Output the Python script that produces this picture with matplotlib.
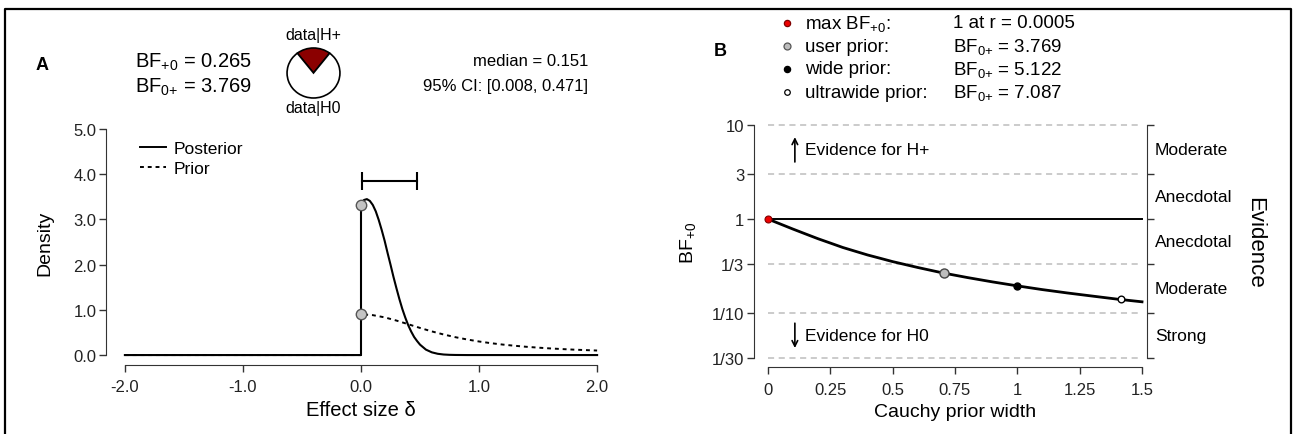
import matplotlib
matplotlib.use('Agg')
import matplotlib.pyplot as plt
from matplotlib.lines import Line2D
import numpy as np

plt.rcParams['font.family'] = ['Liberation Sans', 'DejaVu Sans']
plt.rcParams['mathtext.fontset'] = 'custom'
plt.rcParams['mathtext.rm'] = 'Liberation Sans'
plt.rcParams['mathtext.it'] = 'Liberation Sans:italic'
plt.rcParams['mathtext.default'] = 'regular'
plt.rcParams['axes.unicode_minus'] = False

# panel A: prior and posterior density
effect_size = [-2.0, 0.0, 0.0, 0.025, 0.05, 0.075, 0.1, 0.125, 0.15, 0.175, 0.2, 0.225,
               0.25, 0.275, 0.3, 0.325, 0.35, 0.375, 0.4, 0.425, 0.45, 0.475, 0.5,
               0.55, 0.6, 0.65, 0.7, 0.75, 0.8, 0.9, 2.0]
posterior = [0.0, 0.0, 3.33, 3.43, 3.45, 3.41, 3.32, 3.18, 2.99, 2.77, 2.53, 2.26,
             2.00, 1.73, 1.48, 1.24, 1.02, 0.83, 0.66, 0.52, 0.40, 0.31, 0.23,
             0.12, 0.06, 0.028, 0.012, 0.005, 0.002, 0.0, 0.0]
prior_x = [-2.0, 0.0, 0.0, 0.1, 0.2, 0.3, 0.4, 0.5, 0.6, 0.7, 0.8, 0.9, 1.0,
           1.1, 1.2, 1.3, 1.4, 1.5, 1.6, 1.7, 1.8, 1.9, 2.0]
prior = [0.0, 0.0, 0.90, 0.883, 0.834, 0.763, 0.682, 0.600, 0.523, 0.455, 0.395, 0.344, 0.300,
         0.263, 0.232, 0.206, 0.183, 0.164, 0.147, 0.133, 0.120, 0.110, 0.100]
posterior_at_zero = 3.33
prior_at_zero = 0.90
ci_low, ci_high = 0.008, 0.471
median = 0.151
bf_plus0 = 0.265
bf_0plus = 3.769

x_ticks_a = [-2, -1, 0, 1, 2]
x_labels_a = ['-2.0', '-1.0', '0.0', '1.0', '2.0']
y_ticks_a = [0, 1, 2, 3, 4, 5]
y_labels_a = ['0.0', '1.0', '2.0', '3.0', '4.0', '5.0']

# panel B: robustness check
prior_width = [0.0, 0.05, 0.1, 0.15, 0.2, 0.25, 0.3, 0.35, 0.4, 0.45, 0.5, 0.6, 0.7,
               0.8, 0.9, 1.0, 1.1, 1.2, 1.3, 1.4, 1.5]
bf_curve = [1.0, 0.885, 0.783, 0.696, 0.619, 0.556, 0.499, 0.455, 0.415, 0.383, 0.353,
            0.306, 0.268, 0.239, 0.215, 0.195, 0.178, 0.164, 0.152, 0.141, 0.132]
max_r, max_bf = 0.0005, 1.0
user_r, user_bf0 = 0.707, 3.769
wide_r, wide_bf0 = 1.0, 5.122
ultra_r, ultra_bf0 = 1.414, 7.087

bf_levels = [1/30, 1/10, 1/3, 1, 3, 10]
bf_level_labels = ['1/30', '1/10', '1/3', '1', '3', '10']
evidence_names = ['Strong', 'Moderate', 'Anecdotal', 'Anecdotal', 'Moderate']
x_ticks_b = [0, 0.25, 0.5, 0.75, 1, 1.25, 1.5]
x_labels_b = ['0', '0.25', '0.5', '0.75', '1', '1.25', '1.5']

W, H = 1293, 435
BF0P = 'BF$_{0{+}}$'
BFP0 = 'BF$_{+0}$'


def fx(x):
    return x / W


def fy(y):
    return 1 - y / H


def box(left, top, right, bottom):
    return [fx(left), fy(bottom), (right - left) / W, (bottom - top) / H]


fig = plt.figure(figsize=(W / 100, H / 100), dpi=100)

axis_col = '#333333'
tick_size = 12

# ---------- panel A ----------
ax = fig.add_axes(box(106, 121, 616, 366))
ax.plot(prior_x, prior, color='black', lw=1.4, linestyle=(0, (2, 2)))
ax.plot(effect_size, posterior, color='black', lw=1.5)
ax.plot([0, 0], [posterior_at_zero, prior_at_zero], 'o', ms=7.5,
        mfc='#c4c4c4', mec='#555555', mew=1)
cap_y = 3.85
ax.plot([ci_low, ci_high], [cap_y, cap_y], color='black', lw=1.5)
ax.vlines([ci_low, ci_high], cap_y - 0.2, cap_y + 0.2, color='black', lw=1.5)
ax.set_xlim(-2.16, 2.16)
ax.set_ylim(-0.22, 5.2)
ax.set_xticks(x_ticks_a)
ax.set_xticklabels(x_labels_a)
ax.set_yticks(y_ticks_a)
ax.set_yticklabels(y_labels_a)
for s in ['top', 'right']:
    ax.spines[s].set_visible(False)
ax.spines['left'].set_bounds(0, 5)
ax.spines['bottom'].set_bounds(-2, 2)
for s in ['left', 'bottom']:
    ax.spines[s].set_color(axis_col)
ax.tick_params(direction='out', length=5, width=1, colors=axis_col,
               labelsize=tick_size, labelcolor='#222222')
ax.tick_params(axis='y', pad=2)
ax.tick_params(axis='x', pad=5)
ax.patch.set_visible(False)

leg = ax.legend(handles=[Line2D([], [], color='black', lw=1.4),
                         Line2D([], [], color='black', lw=1.4, linestyle=(0, (2, 2)))],
                labels=['Posterior', 'Prior'], frameon=False, fontsize=12.5,
                loc='upper left', bbox_to_anchor=(fx(140), fy(142)),
                bbox_transform=fig.transFigure, handlelength=1.5,
                handletextpad=0.45, labelspacing=0.28, borderpad=0, borderaxespad=0)

fig.text(fx(45), fy(243), 'Density', rotation=90, ha='center', va='center', fontsize=14)
fig.text(fx(361), fy(411), 'Effect size δ', ha='center', va='center', fontsize=14.5)

# header of panel A
fig.text(fx(42), fy(65), 'A', fontsize=13, fontweight='bold', ha='center', va='center')
fig.text(fx(135), fy(62), BFP0 + ' = %.3f' % bf_plus0, fontsize=14.5, va='center')
fig.text(fx(135), fy(87), BF0P + ' = %.3f' % bf_0plus, fontsize=14.5, va='center')
fig.text(fx(588), fy(62), 'median = %.3f' % median, fontsize=12, ha='right', va='center')
fig.text(fx(588), fy(87), '95%% CI: [%.3f, %.3f]' % (ci_low, ci_high),
         fontsize=12, ha='right', va='center')

pie_ax = fig.add_axes(box(286, 48, 341, 100))
p_h1 = bf_plus0 / (1 + bf_plus0)
pie_ax.pie([bf_plus0, 1], colors=['#8b0000', 'white'], startangle=90 - p_h1 * 180,
           counterclock=True, wedgeprops=dict(edgecolor='black', linewidth=1.2))
pie_ax.set_aspect('auto')
pie_ax.set_xlim(-1.04, 1.04)
pie_ax.set_ylim(-1.04, 1.04)
fig.text(fx(313), fy(36), 'data|H+', fontsize=11.5, ha='center', va='center')
fig.text(fx(313), fy(108), 'data|H0', fontsize=11.5, ha='center', va='center')

# ---------- panel B ----------
bx = fig.add_axes(box(754, 117, 1147, 368))
bx.set_yscale('log')
bx.hlines([v for v in bf_levels if v != 1], 0, 1.5, colors='#bdbdbd', lw=1.1,
          linestyles=(0, (4, 3)))
bx.plot([0, 1.5], [1, 1], color='black', lw=1.4)
bx.plot(prior_width, bf_curve, color='black', lw=2)
bx.plot([max_r], [max_bf], 'o', ms=5, mfc='#ee0000', mec='#800000', mew=0.8)
bx.plot([user_r], [1 / user_bf0], 'o', ms=6.5, mfc='#bdbdbd', mec='#444444', mew=1)
bx.plot([wide_r], [1 / wide_bf0], 'o', ms=5, mfc='black', mec='black')
bx.plot([ultra_r], [1 / ultra_bf0], 'o', ms=4.8, mfc='white', mec='black', mew=1)
bx.set_xlim(-0.056, 1.52)
bx.set_ylim(10 ** -1.572, 10 ** 1.095)
bx.set_xticks(x_ticks_b)
bx.set_xticklabels(x_labels_b)
bx.set_yticks(bf_levels)
bx.set_yticklabels(bf_level_labels)
bx.yaxis.set_minor_locator(matplotlib.ticker.NullLocator())
bx.spines['top'].set_visible(False)
bx.spines['left'].set_bounds(bf_levels[0], bf_levels[-1])
bx.spines['right'].set_bounds(bf_levels[0], bf_levels[-1])
bx.spines['bottom'].set_bounds(0, 1.5)
for s in ['left', 'right', 'bottom']:
    bx.spines[s].set_color(axis_col)
bx.tick_params(direction='out', length=5, width=1, colors=axis_col,
               labelsize=tick_size, labelcolor='#222222', right=True)
bx.tick_params(axis='y', pad=2)
bx.tick_params(axis='x', pad=6)
bx.patch.set_visible(False)

ytr = bx.get_yaxis_transform()
for lo, hi, name in zip(bf_levels[:-1], bf_levels[1:], evidence_names):
    bx.text(1.02, np.sqrt(lo * hi), name, transform=ytr, fontsize=12.5, va='center')
bx.text(1.275, 0.5, 'Evidence', transform=bx.transAxes, rotation=270,
        fontsize=16, ha='center', va='center')

mid_up = np.sqrt(bf_levels[4] * bf_levels[5])
mid_dn = np.sqrt(bf_levels[0] * bf_levels[1])
bx.annotate('', xy=(0.104, mid_up * 1.45), xytext=(0.104, mid_up / 1.45), xycoords=ytr,
            textcoords=ytr, arrowprops=dict(arrowstyle='->', lw=1.2, color='black'))
bx.annotate('', xy=(0.104, mid_dn / 1.45), xytext=(0.104, mid_dn * 1.45), xycoords=ytr,
            textcoords=ytr, arrowprops=dict(arrowstyle='->', lw=1.2, color='black'))
bx.text(0.13, mid_up, 'Evidence for H+', transform=ytr, fontsize=12.5, va='center')
bx.text(0.13, mid_dn, 'Evidence for H0', transform=ytr, fontsize=12.5, va='center')

fig.text(fx(688), fy(243), BFP0, rotation=90, ha='center', va='center', fontsize=14)
fig.text(fx(955), fy(413), 'Cauchy prior width', ha='center', va='center', fontsize=14)

# header of panel B
fig.text(fx(720), fy(52), 'B', fontsize=13, fontweight='bold', ha='center', va='center')
rows = [24, 47, 70, 93]
row_labels = ['max ' + BFP0 + ':', 'user prior:', 'wide prior:', 'ultrawide prior:']
row_values = ['%g at r = %.4f' % (max_bf, max_r),
              BF0P + ' = %.3f' % user_bf0,
              BF0P + ' = %.3f' % wide_bf0,
              BF0P + ' = %.3f' % ultra_bf0]
row_marks = [dict(ms=4.5, mfc='#ee0000', mec='#800000'),
             dict(ms=5, mfc='#bdbdbd', mec='#555555'),
             dict(ms=4.5, mfc='black', mec='black'),
             dict(ms=4, mfc='white', mec='black')]
for y, lab, val, mk in zip(rows, row_labels, row_values, row_marks):
    fig.add_artist(Line2D([fx(787)], [fy(y)], marker='o', mew=0.9,
                          transform=fig.transFigure, **mk))
    fig.text(fx(805), fy(y), lab, fontsize=13.5, va='center')
    fig.text(fx(953), fy(y), val, fontsize=13.5, va='center')

# outer frame (open at the bottom)
fig.add_artist(Line2D([fx(5), fx(5), fx(1291), fx(1291)], [0, fy(10), fy(10), 0],
                      color='black', lw=1.6, transform=fig.transFigure))

fig.savefig('out.png', dpi=100)
